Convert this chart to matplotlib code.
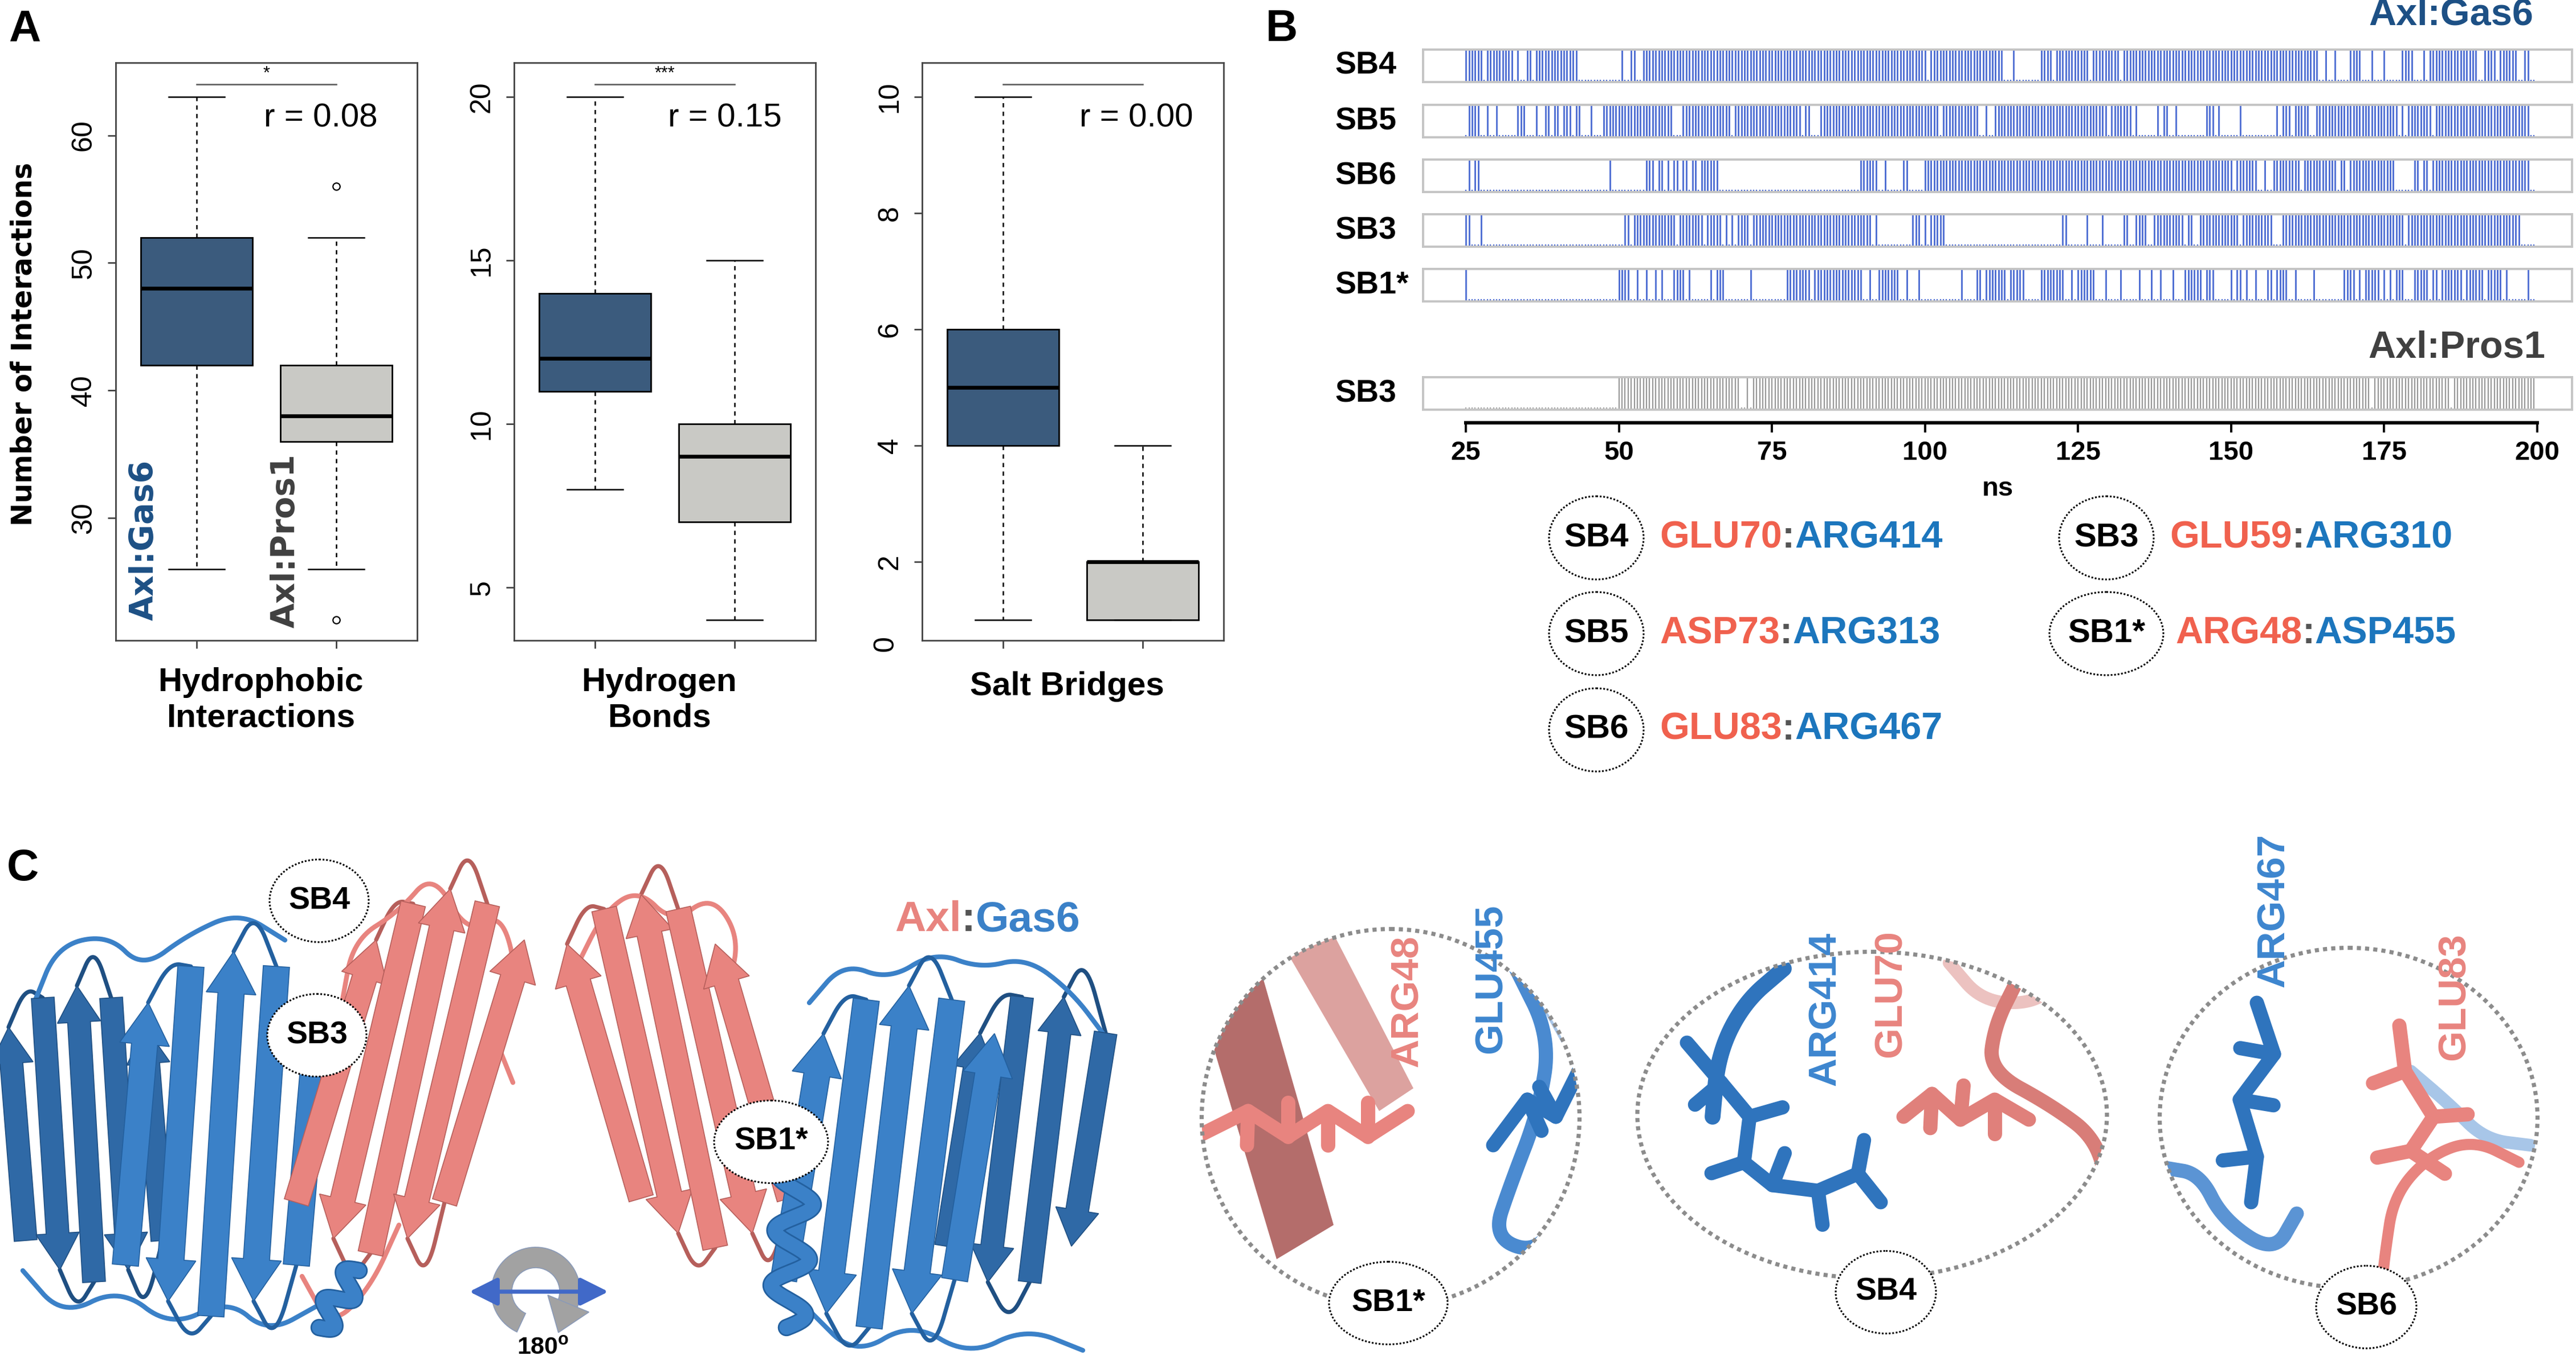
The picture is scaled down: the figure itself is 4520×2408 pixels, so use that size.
import numpy as np
import matplotlib
matplotlib.use('Agg')
import matplotlib.pyplot as plt
from matplotlib.patches import Ellipse, FancyArrow, FancyArrowPatch, Wedge
import matplotlib.patheffects as pe

plt.rcParams['font.family'] = ['Liberation Sans', 'DejaVu Sans']

# ---- panel A: box plot summaries (whisker low, Q1, median, Q3, whisker high)
groups = ['Axl:Gas6', 'Axl:Pros1']
metrics = ['Hydrophobic\nInteractions', 'Hydrogen\nBonds', 'Salt Bridges']
hydro_gas6 = [26, 42, 48, 52, 63]
hydro_pros1 = [26, 36, 38, 42, 52]
hydro_pros1_out = [56, 22]
hbond_gas6 = [8, 11, 12, 14, 20]
hbond_pros1 = [4, 7, 9, 10, 15]
salt_gas6 = [1, 4, 5, 6, 10]
salt_pros1 = [1, 1, 2, 2, 4]
r_labels = ['r = 0.08', 'r = 0.15', 'r = 0.00']
signif = ['*', '***', '']
y_ranges = [(20.4, 65.7), (3.38, 21.05), (0.65, 10.59)]
y_ticks = [[30, 40, 50, 60], [5, 10, 15, 20], [0, 2, 4, 6, 8, 10]]

# ---- panel B: time windows (ns) in which each salt bridge is formed
ns_ticks = [25, 50, 75, 100, 125, 150, 175, 200]
frame_ns = np.arange(25, 200, 0.5)
gas6_rows = ['SB4', 'SB5', 'SB6', 'SB3', 'SB1*']
sb4 = [(25.1, 27.6), (28.5, 32.7), (33.6, 33.6), (34.9, 35.5), (36.5, 43.1), (50.4, 50.4),
       (52.0, 52.5), (53.9, 99.8), (101.1, 112.6), (114.6, 114.6), (119.0, 120.7),
       (121.5, 126.7), (127.4, 131.7), (132.5, 163.9), (165.3, 165.7), (166.8, 166.8),
       (169.3, 170.9), (172.8, 173.1), (174.8, 175.2), (178.2, 179.7), (181.7, 181.7),
       (182.7, 190.2), (191.7, 192.3), (193.2, 193.2), (194.1, 196.7), (198.1, 198.7)]
sb5 = [(25.5, 27.2), (28.6, 28.6), (30.0, 30.0), (33.5, 34.6), (36.6, 36.6), (38.1, 38.6),
       (39.5, 40.1), (41.0, 42.0), (42.9, 43.5), (45.5, 45.5), (47.4, 58.6), (60.4, 68.0),
       (68.8, 74.5), (75.2, 79.5), (80.3, 80.9), (83.2, 85.8), (86.7, 87.3), (88.1, 90.8),
       (91.6, 94.4), (95.2, 96.9), (97.7, 99.3), (100.2, 101.9), (103.1, 108.3),
       (110.1, 110.1), (111.4, 129.6), (130.5, 133.5), (134.4, 134.4), (137.9, 137.9),
       (138.8, 139.5), (140.9, 140.9), (145.9, 146.8), (147.8, 147.8), (151.5, 151.5),
       (157.4, 157.4), (158.3, 159.5), (160.3, 162.5), (163.8, 176.8), (177.9, 177.9),
       (179.1, 182.3), (183.7, 185.9), (186.7, 194.3), (195.2, 198.7)]
sb6 = [(25.5, 25.5), (26.6, 27.2), (48.5, 48.5), (54.4, 55.5), (56.5, 57.0), (58.0, 58.0),
       (58.9, 59.5), (60.5, 61.0), (61.9, 62.5), (63.4, 66.1), (89.6, 92.0), (93.7, 93.7),
       (96.6, 97.2), (100.1, 150.1), (150.8, 153.9), (155.4, 155.4), (156.8, 160.9),
       (162.2, 166.9), (167.8, 168.6), (169.4, 170.4), (171.2, 175.8), (176.7, 176.7),
       (179.8, 180.4), (181.3, 182.2), (182.8, 183.9), (184.6, 198.7)]
sb3 = [(25.1, 25.5), (27.6, 27.6), (50.9, 51.6), (52.4, 58.9), (59.9, 63.6), (64.3, 66.6),
       (67.4, 67.4), (68.5, 68.5), (69.4, 71.0), (71.8, 78.9), (79.7, 90.8), (92.2, 92.2),
       (98.1, 98.8), (100.2, 100.2), (101.2, 103.2), (122.5, 123.1), (126.5, 126.5),
       (129.0, 129.0), (132.6, 133.0), (134.4, 136.1), (137.4, 142.0), (142.9, 143.5),
       (144.9, 151.0), (151.8, 156.5), (158.3, 178.2), (179.1, 197.2)]
sb1 = [(25.2, 25.2), (50.0, 51.4), (53.0, 53.0), (54.4, 54.4), (55.9, 55.9), (56.9, 56.9),
       (58.9, 60.5), (61.5, 61.5), (64.9, 64.9), (66.0, 67.0), (71.5, 71.5), (77.7, 80.9),
       (81.8, 86.3), (87.2, 89.3), (91.2, 91.2), (92.7, 95.7), (97.2, 97.2), (98.8, 98.8),
       (105.8, 105.8), (108.3, 108.9), (109.8, 113.2), (114.1, 116.1), (119.2, 122.6),
       (124.0, 124.0), (125.0, 127.6), (129.3, 129.3), (132.1, 132.1), (135.0, 135.0),
       (136.9, 136.9), (138.6, 138.6), (140.6, 140.6), (142.4, 145.1), (146.1, 146.8),
       (149.8, 149.8), (150.8, 151.5), (152.7, 152.7), (153.9, 153.9), (156.0, 156.5),
       (157.4, 158.9), (160.4, 160.4), (163.5, 163.5), (168.3, 170.0), (170.8, 170.8),
       (171.8, 174.0), (175.0, 175.0), (176.1, 176.1), (177.1, 178.1), (179.8, 181.9),
       (182.8, 183.7), (184.6, 187.6), (188.5, 190.8), (192.1, 193.8), (195.2, 195.2),
       (198.3, 198.7)]
gas6_data = [sb4, sb5, sb6, sb3, sb1]
pros1_rows = ['SB3']
pros1_sb3 = [(49.9, 69.5), (71.0, 71.0), (72.2, 172.7), (173.5, 185.6), (186.5, 199.7)]

bridges = ['SB4', 'SB5', 'SB6', 'SB3', 'SB1*']
axl_res = ['GLU70', 'ASP73', 'GLU83', 'GLU59', 'ARG48']
gas6_res = ['ARG414', 'ARG313', 'ARG467', 'ARG310', 'ASP455']

# ---- panel C labels
inset_bridges = ['SB1*', 'SB4', 'SB6']
inset_res = [('ARG48', 'GLU455'), ('ARG414', 'GLU70'), ('ARG467', 'GLU83')]

# colours
c_gas6_box = '#3b5b7d'
c_pros1_box = '#c9c9c5'
c_gas6_txt = '#1d5085'
c_pros1_txt = '#404040'
c_tick_blue = '#4a6ad2'
c_tick_gray = '#999999'
c_red = '#f0614e'
c_blue = '#1c76bd'
c_salmon = '#e8847f'
c_salmon_dk = '#b65f5b'
c_pblue = '#3b81c8'
c_pblue_dk = '#23609f'

W, H = 4520, 2408
fig = plt.figure(figsize=(W / 200, H / 200), dpi=200)


def rect(l, t, r, b):
    return [l / W, 1 - b / H, (r - l) / W, (b - t) / H]


ov = fig.add_axes([0, 0, 1, 1], zorder=10)
ov.set_xlim(0, W)
ov.set_ylim(H, 0)
ov.axis('off')

# ============ panel A
box_x = [(203, 732), (902, 1431), (1618, 2147)]
summaries = [(hydro_gas6, hydro_pros1, hydro_pros1_out),
             (hbond_gas6, hbond_pros1, []),
             (salt_gas6, salt_pros1, [])]
r_xpos = [0.68, 0.70, 0.71]
for i, (l, r) in enumerate(box_x):
    ax = fig.add_axes(rect(l, 110, r, 1124))
    g, p, out = summaries[i]
    stats = []
    for vals, fl in [(g, []), (p, out)]:
        stats.append(dict(whislo=vals[0], q1=vals[1], med=vals[2], q3=vals[3],
                          whishi=vals[4], fliers=fl))
    bp = ax.bxp(stats, positions=[1, 2], widths=0.8, capwidths=0.4, patch_artist=True,
                boxprops=dict(lw=1.0, edgecolor='black'),
                medianprops=dict(color='black', lw=2.4, solid_capstyle='butt'),
                whiskerprops=dict(color='black', lw=0.9, ls=(0, (3, 3))),
                capprops=dict(color='black', lw=0.9),
                flierprops=dict(marker='o', mfc='none', mec='black', ms=4.5, mew=0.8))
    bp['boxes'][0].set_facecolor(c_gas6_box)
    bp['boxes'][1].set_facecolor(c_pros1_box)
    lo, hi = y_ranges[i]
    ax.set_xlim(0.42, 2.58)
    ax.set_ylim(lo, hi)
    shown = [t for t in y_ticks[i] if t >= lo]
    ax.set_yticks(shown)
    ax.set_yticklabels([str(t) for t in shown], rotation=90, va='center', fontsize=18)
    for t in y_ticks[i]:
        if t < lo:
            ax.annotate(str(t), xy=(0, lo), xycoords=('axes fraction', 'data'),
                        xytext=(-23, -2), textcoords='offset points', rotation=90,
                        ha='center', va='center', fontsize=18)
    ax.set_xticks([1, 2])
    ax.set_xticklabels([])
    ax.tick_params(axis='both', length=5, width=0.9, color='#333333', pad=7)
    for s in ax.spines.values():
        s.set_color('#444444')
        s.set_linewidth(1.0)
    tr = ax.get_xaxis_transform()
    ax.plot([1, 2], [0.9625, 0.9625], transform=tr, color='#555555', lw=0.9)
    if signif[i]:
        ax.text(1.5, 0.966, signif[i], transform=tr, ha='center', va='bottom', fontsize=11)
    ax.text(r_xpos[i], 0.904, r_labels[i], transform=ax.transAxes, ha='center',
            va='center', fontsize=21)
    ov.text((l + r) / 2 - 10, 1205 if '\n' not in metrics[i] else 1229, metrics[i],
            ha='center', va='center', fontsize=21, fontweight='bold', linespacing=1.2)

ov.text(42, 604, 'Number of Interactions', rotation=90, ha='center', va='center',
        family='DejaVu Sans', fontweight='bold', fontsize=17.5)
ov.text(253, 1089, groups[0], rotation=90, ha='center', va='bottom', family='DejaVu Sans',
        fontweight='bold', fontsize=20.5, color=c_gas6_txt)
ov.text(501, 1102, groups[1], rotation=90, ha='center', va='bottom', family='DejaVu Sans',
        fontweight='bold', fontsize=20.5, color=c_pros1_txt)

# ============ panel B
bl, br = 2497, 4513
x_span = (18.0, 205.7)


def barcode(ax, intervals, color, lw):
    present = np.zeros(len(frame_ns), bool)
    for a, b in intervals:
        present |= (frame_ns >= a - 0.26) & (frame_ns <= b + 0.26)
    ax.vlines(frame_ns[present], 0, 1, color=color, lw=lw)
    ax.vlines(frame_ns[~present], 0, 0.07, color=color, lw=lw * 0.8)
    ax.set_xlim(*x_span)
    ax.set_ylim(0, 1)
    ax.set_xticks([])
    ax.set_yticks([])
    for s in ax.spines.values():
        s.set_color('#c4c4c4')
        s.set_linewidth(1.4)


row_tops = [87, 184, 280, 376, 472]
for name, data, top in zip(gas6_rows, gas6_data, row_tops):
    ax = fig.add_axes(rect(bl, top, br, top + 57))
    barcode(ax, data, c_tick_blue, 1.0)
    ov.text(2342, top + 29, name, ha='left', va='center', fontsize=20, fontweight='bold')
ax = fig.add_axes(rect(bl, 662, br, 719))
barcode(ax, pros1_sb3, c_tick_gray, 0.8)
ov.text(2342, 691, pros1_rows[0], ha='left', va='center', fontsize=20, fontweight='bold')

ov.text(4445, 26, groups[0], ha='right', va='center', fontsize=24, fontweight='bold',
        color=c_gas6_txt)
ov.text(4466, 611, groups[1], ha='right', va='center', fontsize=24, fontweight='bold',
        color=c_pros1_txt)

axx = fig.add_axes(rect(bl, 700, br, 742))
axx.set_xlim(*x_span)
axx.set_ylim(0, 1)
axx.patch.set_alpha(0)
for k in ['top', 'left', 'right']:
    axx.spines[k].set_visible(False)
axx.spines['bottom'].set_bounds(ns_ticks[0], ns_ticks[-1])
axx.spines['bottom'].set_linewidth(2.2)
axx.set_yticks([])
axx.set_xticks(ns_ticks)
axx.set_xticklabels([str(t) for t in ns_ticks], fontsize=17, fontweight='bold')
axx.tick_params(axis='x', length=6, width=1.4, pad=5)
axx.set_xlabel('ns', fontsize=17, fontweight='bold', labelpad=7)


def chain_text(x, y, parts, size, **kw):
    t = ov.text(x, y, parts[0][0], color=parts[0][1], ha='left', va='center',
                fontsize=size, fontweight='bold', **kw)
    for s, c in parts[1:]:
        t = ov.annotate(s, xy=(1, 0), xycoords=t, va='bottom', ha='left', color=c,
                        fontsize=size, fontweight='bold', **kw)
    return t


def tag(x, y, label, w=170, h=146, size=20, z=12):
    ov.add_patch(Ellipse((x, y), w, h, fc='white', ec='black', lw=1.1, ls=(0, (1, 1)),
                         zorder=z))
    ov.text(x, y, label, ha='center', va='center', fontsize=size, fontweight='bold',
            zorder=z + 1)


leg_pos = [(2801, 944), (2801, 1112), (2801, 1281), (3696, 944), (3696, 1112)]
for (x, y), sb, a, g in zip(leg_pos, bridges, axl_res, gas6_res):
    tag(x, y, sb, w=200 if '*' in sb else 166, size=21)
    chain_text(x + 111 + (10 if '*' in sb else 0), y,
               [(a, c_red), (':', '#555555'), (g, c_blue)], 24)

# ============ panel C  (schematic cartoon of the complexes)


def smooth(pts, n=4):
    pts = np.asarray(pts, float)
    for _ in range(n):
        new = [pts[0]]
        for p, q in zip(pts[:-1], pts[1:]):
            new += [0.75 * p + 0.25 * q, 0.25 * p + 0.75 * q]
        new.append(pts[-1])
        pts = np.array(new)
    return pts


def tube(pts, color, lw=3.0, z=2, clip=None):
    p = smooth(pts)
    ln, = ov.plot(p[:, 0], p[:, 1], color=color, lw=lw, solid_capstyle='round', zorder=z)
    if clip is not None:
        ln.set_clip_path(clip)


def strand(p0, p1, w, fc, ec, z=3):
    dx, dy = p1[0] - p0[0], p1[1] - p0[1]
    ov.add_patch(FancyArrow(p0[0], p0[1], dx, dy, width=w, head_width=w * 1.9,
                            head_length=w * 1.6, length_includes_head=True, fc=fc, ec=ec,
                            lw=0.6, zorder=z))


def sheet(cx, cy, w, h, n, lean, fc, ec, sw, z=3):
    xs = np.linspace(cx - w / 2, cx + w / 2, n)
    ends = []
    for i, x in enumerate(xs):
        f = i / (n - 1)
        half = h / 2 * (0.72 + 0.28 * np.sin(np.pi * f))
        top = (x + lean / 2, cy - half)
        bot = (x - lean / 2, cy + half)
        if i % 2 == 0:
            strand(bot, top, sw, fc, ec, z)
            ends.append((bot, top))
        else:
            strand(top, bot, sw, fc, ec, z)
            ends.append((top, bot))
    for i in range(n - 1):
        a = ends[i][1]
        b = ends[i + 1][0]
        up = -1 if a[1] < cy else 1
        mid = ((a[0] + b[0]) / 2, a[1] + up * 70)
        tube([a, mid, b], ec, lw=2.6, z=z - 1)


def helix(p0, p1, turns, amp, color, z=4):
    p0, p1 = np.array(p0, float), np.array(p1, float)
    t = np.linspace(0, 1, 200)
    d = p1 - p0
    nrm = np.array([-d[1], d[0]]) / np.hypot(*d)
    pts = p0 + np.outer(t, d) + np.outer(amp * np.sin(2 * np.pi * turns * t), nrm)
    ov.plot(pts[:, 0], pts[:, 1], color=color, lw=9, zorder=z, solid_capstyle='round',
            path_effects=[pe.Stroke(linewidth=11, foreground=c_pblue_dk), pe.Normal()])


# left complex
sheet(150, 1990, 240, 520, 5, -30, '#2f69a6', '#1f4f82', 40, z=3)
tube([(60, 1760), (100, 1660), (190, 1640), (250, 1700), (330, 1640), (420, 1600),
      (500, 1650)], c_pblue, lw=3)
tube([(40, 2230), (110, 2310), (210, 2260), (300, 2330), (400, 2280), (470, 2340),
      (560, 2290)], c_pblue, lw=3)
sheet(390, 1990, 300, 640, 5, 40, c_pblue, c_pblue_dk, 46, z=4)
sheet(720, 1880, 260, 640, 5, 140, c_salmon, c_salmon_dk, 44, z=4)
tube([(600, 1760), (620, 1650), (700, 1600), (760, 1530), (820, 1640), (880, 1600),
      (910, 1720), (860, 1800), (900, 1900)], c_salmon, lw=3, z=3)
tube([(530, 2240), (580, 2330), (650, 2260), (700, 2150)], c_salmon, lw=3, z=3)
helix((560, 2330), (630, 2230), 2, 22, c_pblue, z=5)

# right complex
sheet(1190, 1880, 260, 620, 5, -130, c_salmon, c_salmon_dk, 44, z=3)
tube([(1010, 1700), (1060, 1600), (1120, 1560), (1180, 1620), (1250, 1570),
      (1300, 1650), (1270, 1750)], c_salmon, lw=3, z=2)
sheet(1800, 2000, 220, 520, 4, 60, '#2f69a6', '#1f4f82', 40, z=3)
sheet(1560, 2030, 300, 600, 5, 70, c_pblue, c_pblue_dk, 46, z=4)
tube([(1420, 1760), (1480, 1690), (1560, 1720), (1640, 1670), (1720, 1700),
      (1800, 1680), (1880, 1740), (1940, 1820)], c_pblue, lw=3, z=2)
tube([(1420, 2300), (1500, 2380), (1600, 2320), (1700, 2380), (1800, 2330),
      (1900, 2370)], c_pblue, lw=3, z=2)
helix((1380, 2330), (1400, 2040), 3, 32, c_pblue, z=5)

tag(560, 1581, 'SB4', w=174, h=145)
tag(556, 1817, 'SB3', w=174, h=145)
tag(1353, 2004, 'SB1*', w=200, h=145)
chain_text(1570, 1615, [('Axl', c_salmon), (':', '#555555'), ('Gas6', c_pblue)], 27)

# rotation symbol (180 degree turn)
rc = (940, 2267)
ov.add_patch(Wedge(rc, 78, 115, 385, width=36, fc='#a2a2a2', ec='#8a9ab8', lw=0.6,
                   zorder=6))
ang = np.deg2rad([16, 21, 61])
rad = np.array([22, 100, 82])
ov.fill(rc[0] + rad * np.cos(ang), rc[1] + rad * np.sin(ang), fc='#a2a2a2',
        ec='#8a9ab8', lw=0.6, zorder=8)
ov.add_patch(FancyArrowPatch((818, 2267), (1073, 2267),
                             arrowstyle='<|-|>,head_length=0.6,head_width=0.3',
                             mutation_scale=25, color='#4169c8', lw=2.6, zorder=7))
t180 = ov.text(907, 2365, '180', ha='left', va='center', fontsize=15.5, fontweight='bold')
ov.annotate('o', xy=(1, 0.45), xycoords=t180, ha='left', va='bottom', fontsize=11,
            fontweight='bold')

# zoomed insets
insets = [((2440, 1962), 663, 663), ((3285, 1957), 824, 573), ((4121, 1962), 663, 597)]
clips = [Ellipse(c, w, h, transform=ov.transData) for c, w, h in insets]


def sticks(pts, color, clip, lw=9, z=4):
    pts = np.asarray(pts, float)
    ln, = ov.plot(pts[:, 0], pts[:, 1], color=color, lw=lw, solid_capstyle='round',
                  solid_joinstyle='round', zorder=z)
    ln.set_clip_path(clip)
    for k in range(1, len(pts) - 1):
        d = pts[k + 1] - pts[k - 1]
        nrm = np.array([-d[1], d[0]]) / np.hypot(*d) * (1 if k % 2 else -1)
        q = pts[k] + 60 * nrm
        br_, = ov.plot([pts[k][0], q[0]], [pts[k][1], q[1]], color=color, lw=lw,
                       solid_capstyle='round', zorder=z)
        br_.set_clip_path(clip)


def band(pts, color, clip, z=2):
    pts = np.asarray(pts, float)
    poly = ov.fill(pts[:, 0], pts[:, 1], color=color, zorder=z, lw=0)[0]
    poly.set_clip_path(clip)


# inset 1: SB1*
band([(2100, 1740), (2200, 1660), (2340, 2150), (2240, 2210)], '#b46d6b', clips[0])
band([(2240, 1640), (2330, 1620), (2480, 1910), (2420, 1950)], '#dca29f', clips[0])
band([(2640, 1650), (2700, 1640), (2780, 1800), (2740, 1830)], '#a9c6e8', clips[0])
sticks([(2110, 1990), (2190, 1950), (2260, 1995), (2330, 1950), (2400, 1995),
        (2470, 1950)], c_salmon, clips[0])
tube([(2660, 1700), (2720, 1820), (2700, 1950), (2650, 2080), (2620, 2170), (2690, 2200),
      (2740, 2140)], '#4a8ad0', lw=9, z=3, clip=clips[0])
sticks([(2620, 2010), (2680, 1930), (2730, 1960), (2770, 1880)], '#2f74bd', clips[0])

# inset 2: SB4
tube([(3130, 1700), (3060, 1760), (3015, 1850), (3005, 1960)], '#2f74bd', lw=10, z=3,
     clip=clips[1])
sticks([(2960, 1830), (3020, 1900), (3070, 1960), (3060, 2040), (3110, 2080),
        (3190, 2090), (3260, 2060), (3300, 2110)], '#2f74bd', clips[1])
tube([(3420, 1690), (3480, 1760), (3580, 1760), (3620, 1700)], '#ecc2c0', lw=8, z=2,
     clip=clips[1])
tube([(3540, 1720), (3500, 1800), (3490, 1880), (3600, 1940), (3680, 2000), (3700, 2100)],
     '#d87d78', lw=9, z=3, clip=clips[1])
sticks([(3340, 1960), (3390, 1920), (3440, 1965), (3500, 1930), (3560, 1965)],
       '#e0807b', clips[1])

# inset 3: SB6
tube([(4230, 1880), (4300, 1940), (4360, 2000), (4440, 2010)], '#a8c6e8', lw=8, z=2,
     clip=clips[2])
tube([(3800, 2050), (3860, 2060), (3900, 2140), (3990, 2200), (4030, 2130)], '#5b94d4',
     lw=9, z=3, clip=clips[2])
sticks([(3960, 1760), (3990, 1850), (3930, 1930), (3960, 2030), (3950, 2110)], '#2f74bd',
       clips[2])
tube([(4420, 2040), (4340, 2000), (4260, 2030), (4200, 2100), (4185, 2200), (4180, 2250)],
     c_salmon, lw=7, z=3)
sticks([(4210, 1800), (4220, 1880), (4270, 1960), (4230, 2020), (4290, 2060)], c_salmon,
       clips[2])

for c, w, h in insets:
    ov.add_patch(Ellipse(c, w, h, fill=False, ec='#8c8c8c', lw=2.6, ls=(0, (1, 1)),
                         zorder=8))

tag(2436, 2287, inset_bridges[0], w=208, h=145)
tag(3309, 2268, inset_bridges[1], w=176, h=145)
tag(4152, 2294, inset_bridges[2], w=176, h=145)

res_pos = [((2470, 1757), (2617, 1718)), ((3203, 1771), (3318, 1744)),
           ((3990, 1598), (4307, 1749))]
res_col = [(c_salmon, '#3d86cf'), ('#3d86cf', c_salmon), ('#3d86cf', c_salmon)]
for (p1, p2), (n1, n2), (k1, k2) in zip(res_pos, inset_res, res_col):
    ov.text(p1[0], p1[1], n1, rotation=90, ha='center', va='center', fontsize=25,
            fontweight='bold', color=k1, zorder=9)
    ov.text(p2[0], p2[1], n2, rotation=90, ha='center', va='center', fontsize=25,
            fontweight='bold', color=k2, zorder=9)

# panel letters
for lbl, x, y in [('A', 43, 52), ('B', 2249, 52), ('C', 40, 1525)]:
    ov.text(x, y, lbl, ha='center', va='center', fontsize=28, fontweight='bold',
            family=['Liberation Sans Narrow', 'Liberation Sans'])

fig.savefig('out.png', dpi=200)
